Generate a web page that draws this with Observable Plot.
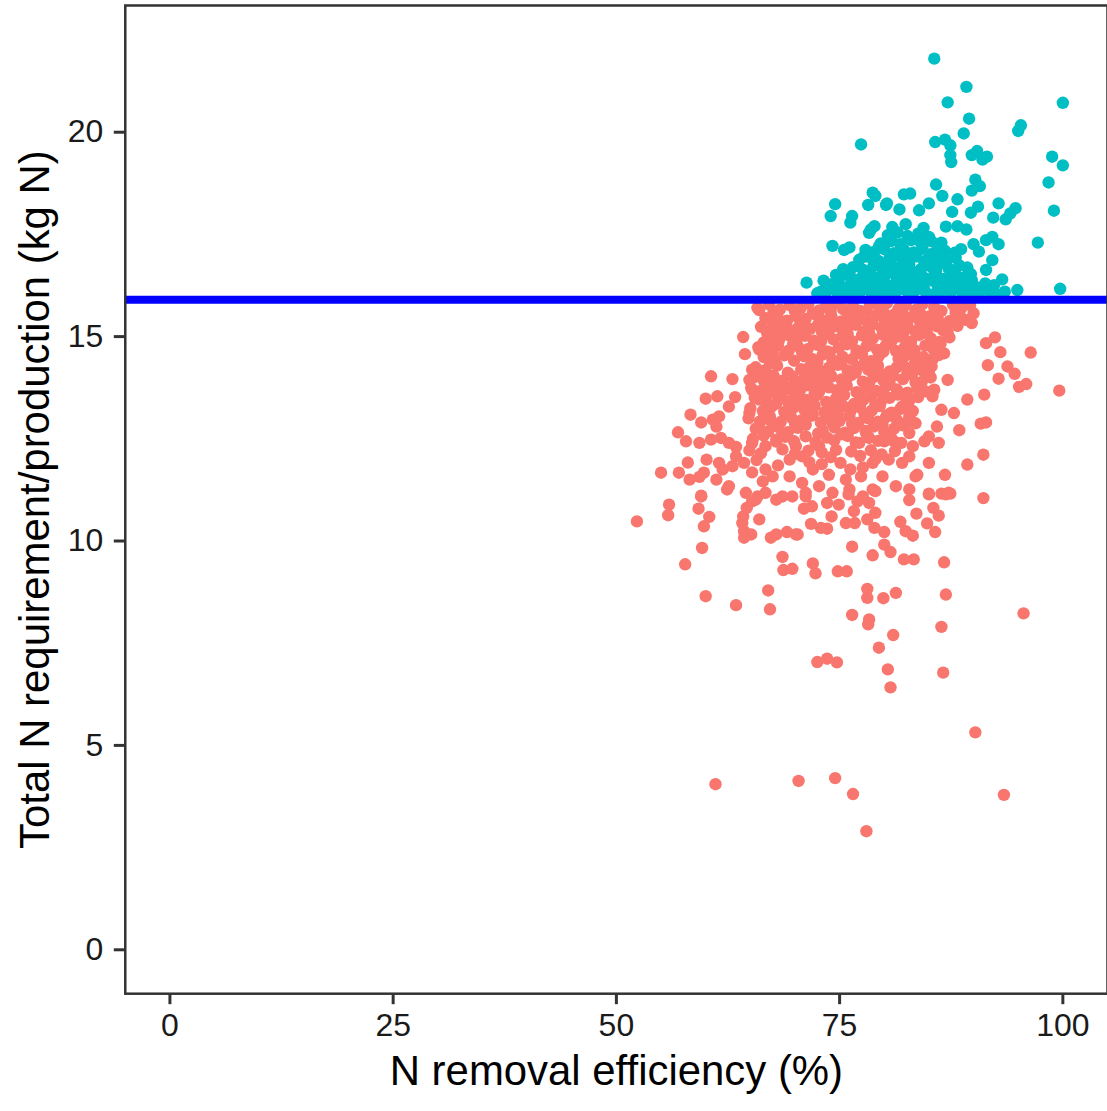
<!DOCTYPE html>
<html>
<head>
<meta charset="utf-8">
<script src="https://cdn.jsdelivr.net/npm/d3@7"></script>
<script src="https://cdn.jsdelivr.net/npm/@observablehq/plot@0.6"></script>
<style>
  html, body { margin: 0; padding: 0; background: white; overflow: hidden; }
</style>
</head>
<body>
<div id="chart"></div>
<script>
const xTitle = "N removal efficiency (%)";
const yTitle = "Total N requirement/production (kg N)";
const xTicks = [0, 25, 50, 75, 100];
const yTicks = [0, 5, 10, 15, 20];
const threshold = 15.9;

// points below the threshold (salmon): [efficiency %, total N kg]
const belowSparse = [
  [64.2,14.99],[64.4,14.57],[60.6,14.03],[63.0,13.96],[60.0,13.48],[61.3,13.54],[63.3,13.52],[62.6,13.29],[58.3,13.09],[59.5,12.90],
  [60.8,12.97],[61.5,13.05],[61.2,12.80],[56.9,12.66],[57.8,12.44],[59.3,12.40],[60.6,12.48],[61.7,12.52],[62.6,12.40],[63.4,12.30],
  [58.0,11.92],[60.1,11.99],[55.0,11.67],[57.0,11.67],[58.2,11.50],[59.3,11.57],[59.8,11.67],[59.5,11.11],[61.2,11.50],[61.9,11.75],
  [63.0,11.83],[62.6,11.34],[64.3,11.91],[65.2,11.68],[66.7,11.75],[64.5,11.18],[65.8,11.09],[66.0,15.65],[66.7,15.45],[66.9,15.08],
  [66.0,14.68],[65.2,14.19],[64.9,13.94],[65.2,13.70],[66.0,13.46],[64.9,13.13],[66.0,12.80],[65.2,12.40],[66.7,12.32],[67.1,12.97],
  [67.5,13.70],[67.3,14.35],[67.5,14.84],[61.5,11.91],[63.4,12.07],[66.4,11.46],[67.5,11.58],[66.7,11.18],
  [69.4,11.99],[70.8,12.07],[72.0,11.75],[73.8,11.62],[75.1,11.91],[76.2,11.75],[74.2,11.18],[76.1,11.26],[78.7,11.91],[80.0,12.44],
  [81.1,12.44],[80.5,11.99],[82.0,11.91],[82.8,12.07],[79.8,11.58],[78.7,11.26],[82.8,12.64],[83.2,12.32],[82.0,13.29],[82.8,13.05],
  [82.8,14.19],[82.8,11.26],[77.6,11.09],[71.2,11.09],[68.6,11.09],[67.9,12.48],[70.1,12.32],[72.7,12.32],[74.6,12.23],[77.2,12.40],
  [69.4,11.58],[70.8,11.42],[72.7,11.34],[75.7,11.50],[77.4,11.58],[81.3,11.34],[83.5,11.58],
  [91.4,14.84],[92.4,14.98],[93.0,14.62],[96.4,14.61],[91.6,14.30],[93.8,14.27],[94.6,14.09],[92.8,13.97],[95.1,13.77],[95.9,13.84],
  [99.6,13.68],[89.3,13.46],[91.2,13.58],[88.4,12.71],[90.8,12.87],[91.4,12.90],[91.1,12.11],[89.3,11.87],[91.1,11.05],[86.7,14.59],
  [87.1,15.10],[90.0,15.57],[89.1,15.41],[88.0,15.57],[85.9,15.25],[87.1,13.94],[87.8,13.13],[85.9,12.80],[86.1,12.40],[85.0,12.56],
  [84.5,12.44],[85.0,11.91],[83.7,11.62],[86.8,11.62],[85.0,11.16],[87.2,11.18],[86.4,11.16],[85.4,13.54],[86.4,13.21],[83.5,12.88],
  [85.0,14.10],[85.6,13.70],[83.9,13.70],
  [52.3,10.48],[55.9,10.89],[55.8,10.63],[59.5,11.09],[59.2,10.79],[60.4,10.59],[59.8,10.36],[59.6,9.83],[57.7,9.43],[60.0,8.65],
  [63.4,8.43],[67.0,8.79],[67.2,8.33],[68.6,9.61],[68.7,9.29],[69.7,9.32],[64.2,10.60],[64.1,10.44],[64.3,10.24],[65.1,10.16],
  [64.3,10.08],[64.6,10.81],[65.2,10.97],[65.6,11.01],[66.0,10.53],[67.3,10.08],[67.9,10.16],[69.1,10.22],[70.1,10.16],[67.9,11.01],
  [62.4,11.26],
  [69.7,11.09],[71.2,11.18],[71.0,10.79],[71.9,10.85],[73.6,10.93],[74.9,10.89],[74.1,10.60],[71.8,10.42],[72.9,10.32],[73.6,10.30],
  [70.3,10.16],[76.0,11.14],[77.0,10.97],[78.3,10.93],[79.0,10.69],[76.6,10.73],[75.7,10.44],[76.7,10.44],[78.1,10.53],[78.9,10.32],
  [80.0,10.22],[79.0,11.22],[82.8,11.00],[85.0,11.14],[86.9,11.14],[87.4,11.16],[83.6,10.67],[85.5,10.81],[86.1,10.62],[84.8,10.43],
  [85.7,10.22],[81.8,10.47],[82.4,10.24],[83.2,10.13],[76.4,9.86],[78.7,9.65],[80.0,9.91],[80.7,9.73],[82.2,9.55],[83.3,9.55],
  [86.7,9.48],[72.0,9.45],[72.3,9.21],[74.8,9.26],[75.8,9.26],[78.1,8.83],[78.1,8.61],[79.9,8.60],[81.3,8.73],[86.9,8.69],
  [76.4,8.19],[78.3,8.08],[78.2,7.96],[95.6,8.23],[86.4,7.90],[81.0,7.70],[79.4,7.39],[72.5,7.04],[73.6,7.12],[74.7,7.03],
  [80.4,6.86],[86.6,6.78],[80.7,6.42],
  [90.2,5.32],[61.1,4.05],[70.4,4.13],[74.5,4.20],[76.5,3.81],[93.4,3.79],[78.0,2.90]
];

const belowDense = [
  [65.8,15.70],[67.1,15.79],[68.3,15.66],[69.4,15.77],[70.6,15.69],[71.5,15.80],[72.7,15.64],[73.5,15.75],[74.6,15.81],[75.4,15.67],
  [76.5,15.76],[77.3,15.63],[78.4,15.79],[79.5,15.70],[80.3,15.82],[81.6,15.68],[82.4,15.77],[83.5,15.65],[84.3,15.80],[85.6,15.72],
  [86.4,15.63],[87.7,15.78],[88.6,15.69],[89.6,15.77],
  [67.6,15.60],[70.0,15.62],[72.0,15.58],[74.0,15.61],[76.0,15.59],[78.0,15.63],[80.0,15.57],[82.0,15.62],[84.0,15.58],[86.0,15.60],[88.0,15.64],
  [66.9,15.44],[68.0,15.52],[69.1,15.39],[70.1,15.50],[71.2,15.43],[72.2,15.55],[73.0,15.41],[74.1,15.49],[75.2,15.37],[76.0,15.53],
  [77.1,15.45],[78.1,15.36],[79.0,15.51],[80.0,15.42],[81.1,15.54],[82.0,15.40],[83.1,15.48],[84.0,15.36],[85.1,15.50],[86.0,15.44],
  [87.3,15.38],[88.5,15.49],[89.8,15.33],
  [67.8,15.33],[70.8,15.35],[73.5,15.31],[75.9,15.34],[78.7,15.30],[81.6,15.33],[84.9,15.35],[87.0,15.30],
  [66.2,15.24],[67.3,15.17],[68.5,15.28],[69.6,15.15],[70.5,15.26],[71.7,15.19],[72.6,15.30],[73.8,15.14],[74.7,15.25],[75.6,15.18],
  [76.8,15.29],[77.7,15.12],[79.7,15.21],[80.6,15.29],[81.5,15.16],[82.6,15.27],[83.5,15.13],[84.6,15.23],[85.5,15.30],[86.6,15.15],
  [88.2,15.26],
  [68.0,15.10],[70.9,15.08],[73.0,15.12],[75.9,15.07],[78.3,15.10],[80.4,15.09],[82.2,15.11],[84.8,15.07],[86.9,15.13],
  [67.2,14.99],[68.2,14.91],[69.2,15.04],[70.2,14.94],[71.1,15.02],[72.1,14.90],[73.3,15.05],[74.3,14.93],[75.3,15.01],[76.4,14.89],
  [77.5,15.03],[78.7,14.95],[79.8,15.05],[80.9,14.92],[81.8,15.00],[83.0,14.88],[83.9,15.04],[85.2,14.96],[86.2,14.87],[87.3,14.98],
  [66.5,14.86],[69.8,14.83],[72.9,14.87],[75.7,14.84],[78.2,14.85],[80.5,14.88],[82.9,14.84],[85.6,14.85],
  [65.9,14.74],[67.0,14.67],[68.1,14.78],[69.3,14.66],[70.3,14.77],[71.4,14.69],[72.5,14.80],[73.6,14.64],[74.9,14.73],[75.8,14.81],
  [76.9,14.66],[78.0,14.76],[79.2,14.68],[80.2,14.79],[81.3,14.65],[82.3,14.74],[83.4,14.67],[84.6,14.78],[85.5,14.70],[86.3,14.82],
  [67.5,14.60],[70.8,14.62],[73.9,14.61],[76.9,14.59],[79.9,14.63],[82.8,14.60],
  [66.5,14.50],[67.7,14.43],[68.8,14.54],[69.9,14.41],[71.0,14.52],[72.0,14.45],[73.1,14.56],[74.2,14.42],[75.3,14.51],[76.4,14.45],
  [77.5,14.57],[78.5,14.40],[79.4,14.53],[81.6,14.46],[82.5,14.55],[83.6,14.41],[84.4,14.50],[85.4,14.44],[86.1,14.55],
  [67.2,14.38],[72.5,14.37],[75.2,14.36],[77.8,14.35],[82.0,14.34],[84.8,14.37],
  [65.6,14.25],[66.7,14.18],[68.0,14.29],[70.7,14.20],[71.7,14.28],[72.8,14.16],[73.8,14.24],[74.8,14.31],[75.9,14.17],[77.0,14.26],
  [78.2,14.19],[79.3,14.29],[80.6,14.15],[81.4,14.25],[83.3,14.30],[84.2,14.18],[85.3,14.27],
  [66.0,14.10],[69.2,14.12],[71.3,14.11],[73.9,14.09],[76.8,14.12],[79.5,14.10],[82.6,14.13],[84.8,14.08],
  [65.4,14.00],[66.5,13.93],[67.6,14.04],[68.6,13.92],[69.7,14.03],[70.9,13.94],[72.0,14.05],[73.1,13.91],[74.1,14.02],[75.2,13.95],
  [76.3,14.06],[77.6,13.90],[78.8,14.01],[79.9,13.93],[81.0,14.04],[82.1,13.96],[83.1,14.07],[84.2,13.89],[85.2,14.00],
  [66.8,13.86],[70.2,13.83],[72.5,13.87],[75.7,13.85],[78.3,13.86],[80.6,13.84],[83.5,13.88],
  [65.1,13.74],[66.2,13.68],[67.7,13.79],[68.7,13.66],[69.6,13.77],[70.6,13.70],[71.5,13.81],[72.7,13.65],[73.8,13.76],[74.7,13.69],
  [75.8,13.80],[76.9,13.64],[78.0,13.75],[79.1,13.67],[80.2,13.78],[81.4,13.71],[82.6,13.63],[83.7,13.77],[84.6,13.66],
  [67.0,13.60],[69.9,13.62],[72.2,13.59],[75.0,13.61],[77.2,13.60],[79.8,13.62],[82.2,13.58],
  [65.5,13.50],[66.7,13.44],[68.1,13.55],[69.2,13.41],[70.3,13.52],[71.3,13.45],[72.4,13.56],[73.5,13.40],[74.6,13.49],[75.5,13.57],
  [77.6,13.44],[78.5,13.53],[79.6,13.39],[80.6,13.50],[81.5,13.58],[82.8,13.43],[83.8,13.52],
  [67.9,13.36],[70.8,13.34],[73.9,13.37],[76.6,13.35],[79.0,13.36],[82.3,13.33],
  [65.0,13.25],[66.4,13.18],[67.4,13.29],[68.8,13.16],[69.9,13.27],[71.1,13.20],[72.2,13.31],[73.3,13.15],[74.3,13.24],[75.4,13.30],
  [76.2,13.17],[77.3,13.26],[78.6,13.19],[79.5,13.30],[80.8,13.14],[81.8,13.23],[83.2,13.18],
  [66.7,13.10],[69.3,13.11],[72.0,13.09],[74.8,13.12],[77.8,13.10],[80.3,13.08],
  [64.8,13.00],[66.1,12.93],[67.2,13.04],[68.4,12.91],[69.6,13.02],[70.7,12.95],[71.8,13.06],[72.9,12.90],[73.9,13.01],[75.0,12.94],
  [76.1,13.05],[77.1,12.89],[78.2,13.00],[79.3,12.92],[80.2,13.03],[81.4,12.96],[82.4,12.88],
  [67.6,12.85],[70.0,12.86],[74.2,12.87],[76.4,12.86],[79.8,12.85],
  [65.6,12.75],[67.0,12.68],[68.1,12.79],[69.2,12.66],[70.3,12.77],[71.2,12.84],[73.1,12.70],[74.4,12.78],[75.6,12.65],[76.6,12.76],
  [77.9,12.69],[78.8,12.80],[80.0,12.67],[81.1,12.75],[82.1,12.83],
  [68.6,12.62],[72.6,12.63],[75.2,12.61],[78.0,12.62],
  [65.3,12.50],[66.5,12.58],[67.9,12.43],[68.9,12.55],[69.9,12.44],[71.2,12.56],[72.3,12.42],[73.6,12.53],[74.4,12.46],[75.9,12.57],
  [76.8,12.41],[78.3,12.52],[79.3,12.45],[80.7,12.55],[81.9,12.40],
  [64.9,12.22],[66.2,12.15],[68.6,12.24],[70.0,12.13],[71.5,12.21],[73.0,12.17],[74.0,12.05],[76.3,12.19],[77.3,12.08],[78.5,12.22],
  [79.7,12.12],[81.2,12.20],
  [65.7,11.98],[68.1,11.85],[71.6,11.93],[73.0,11.88],[77.6,11.80],[79.0,12.00]
];

// points above the threshold (teal)
const aboveSparse = [
  [77.4,19.70],[78.7,18.52],[79.0,18.44],[74.5,18.24],[78.2,18.22],[80.2,18.22],[74.0,17.95],[76.4,17.95],[76.2,17.79],[78.5,17.62],
  [78.9,17.70],[78.3,17.54],[74.2,17.22],[75.5,17.12],[76.1,17.18],[77.9,17.12],[79.4,17.20],[77.7,16.95],[71.3,16.32],[73.2,16.37],
  [74.6,16.51],[75.4,16.65],[76.1,16.55],[72.9,16.10],[73.8,16.22],
  [85.6,21.80],[89.2,21.11],[87.1,20.73],[100.0,20.72],[89.5,20.33],[95.3,20.17],[95.0,20.03],[88.9,19.97],[85.7,19.76],[86.8,19.82],
  [87.4,19.68],[87.4,19.44],[87.5,19.27],[89.8,19.44],[90.4,19.54],[91.0,19.33],[91.5,19.40],[98.8,19.40],[100.0,19.19],[98.4,18.77],
  [85.8,18.72],[90.2,18.84],[90.7,18.68],[89.8,18.57],[82.2,18.48],[82.9,18.50],[86.5,18.44],[88.2,18.36],[99.0,18.08],[94.7,18.14],
  [94.1,18.01],[93.6,17.87],[92.8,18.26],[92.2,17.91],[90.5,18.18],[89.7,18.03],[80.3,18.26],[81.7,18.11],[85.0,18.26],[83.9,18.09],
  [87.6,18.05],[86.9,17.69],[88.2,17.70],[89.2,17.62],[97.2,17.30],[92.1,17.44],[92.8,17.26],[91.4,17.36],[90.0,17.26],[88.6,17.14],
  [90.6,17.08],[86.4,17.30],[92.1,16.87],[91.4,16.63],[93.2,16.40],[92.3,16.26],[94.9,16.14],[99.7,16.17]
];

const aboveDense = [
  [72.5,16.06],[73.6,16.12],[74.8,16.04],[75.6,16.10],[76.7,16.03],[77.5,16.13],[78.6,16.05],[79.4,16.11],[80.5,16.02],[81.3,16.09],
  [82.4,16.13],[83.2,16.04],[84.6,16.10],[85.5,16.03],[86.3,16.12],[87.4,16.05],[88.6,16.11],[89.5,16.03],[90.7,16.09],[91.6,16.13],
  [92.5,16.05],[93.5,16.10],
  [75.9,16.17],[78.0,16.18],[80.0,16.16],[82.0,16.19],[84.0,16.17],[86.8,16.18],[89.0,16.16],[91.0,16.19],
  [74.1,16.28],[75.2,16.22],[76.3,16.31],[77.1,16.24],[78.2,16.33],[79.0,16.21],[80.1,16.30],[81.0,16.25],[82.0,16.34],[82.9,16.22],
  [83.9,16.29],[84.8,16.36],[86.0,16.23],[86.9,16.32],[88.0,16.26],[89.1,16.35],[90.2,16.22],[91.3,16.30],
  [76.8,16.38],[78.9,16.37],[81.4,16.39],[83.2,16.38],[85.4,16.37],[87.4,16.40],[89.8,16.38],
  [75.0,16.44],[76.0,16.50],[77.4,16.43],[78.5,16.52],[79.5,16.46],[80.4,16.55],[81.6,16.42],[82.6,16.49],[83.5,16.56],[84.4,16.45],
  [85.6,16.51],[86.6,16.41],[87.7,16.50],[88.8,16.44],[89.7,16.53],
  [78.2,16.58],[81.1,16.60],[83.1,16.59],[85.8,16.61],[87.9,16.60],
  [76.5,16.70],[77.6,16.64],[78.8,16.73],[79.8,16.66],[80.8,16.76],[81.9,16.68],[82.8,16.77],[84.1,16.65],[85.2,16.72],[86.2,16.79],
  [87.2,16.67],[88.4,16.74],[89.3,16.69],
  [79.6,16.80],[82.1,16.81],[84.5,16.80],[86.6,16.83],
  [77.2,16.88],[78.3,16.95],[79.3,16.86],[80.6,16.93],[81.5,16.99],[82.5,16.87],[83.6,16.96],[84.9,16.90],[85.9,16.98],[87.0,16.85],
  [88.0,16.93],
  [78.9,17.08],[80.0,17.14],[81.1,17.04],[82.2,17.12],[83.3,17.06],[84.3,17.15],[85.4,17.03],[86.8,17.10],[87.9,17.05],
  [79.6,17.28],[80.8,17.34],[81.8,17.26],[83.0,17.36],[84.1,17.29],[85.3,17.33],[86.0,17.24],
  [80.4,17.48],[81.5,17.55],[82.6,17.46],[83.8,17.52],[85.0,17.44],
  [80.9,17.68],[82.4,17.75],[84.4,17.66]
];

const below = belowSparse.concat(belowDense);
const above = aboveSparse.concat(aboveDense);

const font = "'Liberation Sans', Arial, Helvetica, sans-serif";

const chart = Plot.plot({
  width: 1109,
  height: 1111,
  marginLeft: 125,
  marginRight: 0,
  marginTop: 5,
  marginBottom: 116,
  x: { domain: [-5, 105], label: null },
  y: { domain: [-1.074, 23.1], label: null },
  style: { fontFamily: font, background: "white", overflow: "visible" },
  marks: [
    Plot.dot(below, { x: d => d[0], y: d => d[1], r: 6.2, fill: "#F8766D" }),
    Plot.dot(above, { x: d => d[0], y: d => d[1], r: 6.2, fill: "#00BFC4" }),
    Plot.ruleY([threshold], { stroke: "#0000FF", strokeWidth: 8 }),
    Plot.frame({ stroke: "#333333", strokeWidth: 2.5 }),
    Plot.axisX(xTicks, { tickSize: 11, tickPadding: 9, fontSize: 32, stroke: "#333333", strokeWidth: 3, fill: "#1a1a1a", label: null }),
    Plot.axisY(yTicks, { tickSize: 11, tickPadding: 11, fontSize: 32, stroke: "#333333", strokeWidth: 3, fill: "#1a1a1a", label: null }),
    Plot.text([xTitle], { text: d => d, frameAnchor: "bottom", lineAnchor: "middle", textAnchor: "middle", dy: 77.6, fontSize: 42, fill: "#000" }),
    Plot.text([yTitle], { text: d => d, frameAnchor: "left", lineAnchor: "middle", textAnchor: "middle", rotate: -90, dx: -89.4, fontSize: 42, fill: "#000" })
  ]
});

document.getElementById("chart").appendChild(chart);
</script>
</body>
</html>
